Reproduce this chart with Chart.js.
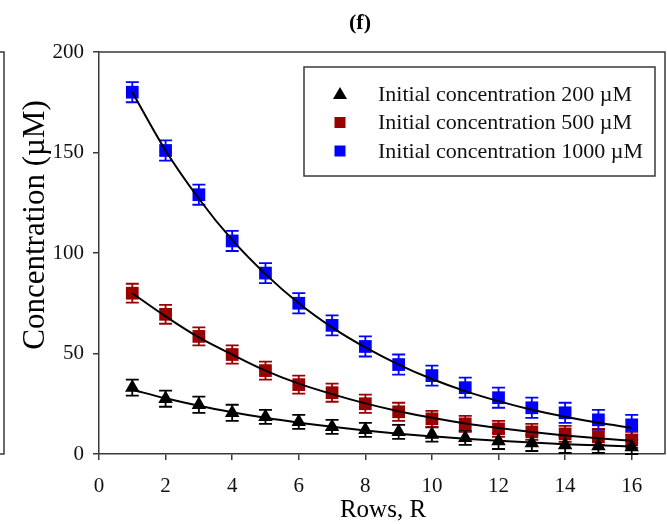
<!DOCTYPE html>
<html>
<head>
<meta charset="utf-8">
<script src="https://cdn.jsdelivr.net/npm/chart.js@4.4.1/dist/chart.umd.min.js"></script>
<style>
  html, body { margin: 0; padding: 0; background: #fff; }
  #wrap { width: 667px; height: 524px; }
</style>
</head>
<body>
<div id="wrap"><canvas id="chart" width="667" height="524"></canvas></div>
<script>
// rows along the column
const rows = [1, 2, 3, 4, 5, 6, 7, 8, 9, 10, 11, 12, 13, 14, 15, 16];

// measured concentrations (uM)
const conc200  = [33, 27.5, 24.5, 20.5, 18.5, 16, 13.5, 12, 11, 9.7, 8, 6.5, 5.5, 4.5, 4, 3.5];
const conc500  = [80, 69.5, 58.5, 49.5, 41.5, 34.5, 30.5, 25, 21, 17.5, 15, 12.5, 11, 10, 8.5, 7];
const conc1000 = [180, 151, 129, 106, 90, 75, 64, 53.5, 44.5, 39, 33, 28, 23, 20.5, 17, 14.5];

// error bar half-heights
const err200  = [4, 4, 4, 4, 3.5, 3.5, 3.5, 3.5, 3.5, 3.5, 3.5, 4, 4, 4, 3.5, 3.5];
const err500  = [4.7, 4.7, 4.5, 4.5, 4.5, 4.5, 4.5, 4.5, 4.5, 4, 4, 4, 4, 4, 4, 4];
const err1000 = [5, 5, 5, 5, 5, 5, 5, 5, 5, 5, 5, 5, 5, 5, 5, 5];

// fitted curves
const fit200  = [32, 27.7, 24, 20.8, 18, 15.6, 13.5, 11.7, 10.1, 8.8, 7.6, 6.6, 5.7, 4.9, 4.3, 3.7];
const fit500  = [80, 68.5, 58, 49.5, 41.5, 35, 29.8, 25.2, 21.3, 18, 15.2, 12.9, 10.9, 9.2, 7.8, 6.6];
const fit1000 = [180, 151, 127, 106.5, 89.5, 75, 63, 53, 44.5, 37.3, 31.3, 26.3, 22, 18.5, 15.5, 13];

const xTicks = [0, 2, 4, 6, 8, 10, 12, 14, 16];
const yTicks = [0, 50, 100, 150, 200];

const legendLabels = [
  'Initial concentration 200 \u00b5M',
  'Initial concentration 500 \u00b5M',
  'Initial concentration 1000 \u00b5M'
];

const axisColor = '#3a3a3a';
const serif = '"Liberation Serif", "Times New Roman", serif';

const pts = ys => rows.map((r, i) => ({ x: r, y: ys[i] }));

const series = [
  { label: legendLabels[0], data: conc200,  err: err200,  color: '#000000', style: 'triangle', radius: 8.4 },
  { label: legendLabels[1], data: conc500,  err: err500,  color: '#990000', style: 'rect', radius: 9 },
  { label: legendLabels[2], data: conc1000, err: err1000, color: '#0000ff', style: 'rect', radius: 9 }
];

const fitSet = (ys) => ({
  type: 'line',
  data: pts(ys),
  borderColor: '#000',
  borderWidth: 2,
  pointRadius: 0,
  fill: false,
  cubicInterpolationMode: 'monotone',
  order: 0
});

const datasets = [
  fitSet(fit200), fitSet(fit500), fitSet(fit1000),
  ...series.map(s => ({
    type: 'scatter',
    label: s.label,
    data: pts(s.data),
    backgroundColor: s.color,
    borderColor: s.color,
    borderWidth: 0,
    pointStyle: s.style,
    pointRadius: s.radius,
    pointHoverRadius: s.radius,
    order: 1
  }))
];

const errorBars = {
  id: 'errorBars',
  beforeDatasetsDraw(chart) {
    const { ctx, scales: { x, y } } = chart;
    ctx.save();
    ctx.lineWidth = 1.8;
    series.forEach(s => {
      ctx.strokeStyle = s.color;
      rows.forEach((r, i) => {
        const px = x.getPixelForValue(r);
        const top = y.getPixelForValue(s.data[i] + s.err[i]);
        const bot = y.getPixelForValue(s.data[i] - s.err[i]);
        ctx.beginPath();
        ctx.moveTo(px, top); ctx.lineTo(px, bot);
        ctx.moveTo(px - 6.5, top); ctx.lineTo(px + 6.5, top);
        ctx.moveTo(px - 6.5, bot); ctx.lineTo(px + 6.5, bot);
        ctx.stroke();
      });
    });
    ctx.restore();
  }
};

const decorations = {
  id: 'decorations',
  afterDraw(chart) {
    const { ctx, chartArea: a } = chart;
    ctx.save();
    // frame around the plot
    ctx.strokeStyle = axisColor;
    ctx.lineWidth = 1.5;
    ctx.beginPath();
    ctx.moveTo(a.left, a.top); ctx.lineTo(a.right, a.top); ctx.lineTo(a.right, a.bottom);
    ctx.stroke();
    // edge of the neighbouring panel
    ctx.beginPath();
    ctx.moveTo(0, a.top); ctx.lineTo(4, a.top); ctx.lineTo(4, a.bottom); ctx.lineTo(0, a.bottom);
    ctx.stroke();

    // panel title
    ctx.fillStyle = '#000';
    ctx.font = 'bold 22px ' + serif;
    ctx.textAlign = 'center';
    ctx.textBaseline = 'middle';
    ctx.fillText('(f)', 360, 23);

    // axis titles
    ctx.font = '25px ' + serif;
    ctx.fillText('Rows, R', 383, 510);
    ctx.save();
    ctx.translate(36, 225);
    ctx.rotate(-Math.PI / 2);
    ctx.font = '31px ' + serif;
    ctx.fillText('Concentration (\u00b5M)', 0, 0);
    ctx.restore();

    // legend
    const bx = 304, by = 67, bw = 351, bh = 109;
    ctx.strokeStyle = axisColor;
    ctx.lineWidth = 1.5;
    ctx.strokeRect(bx, by, bw, bh);
    ctx.font = '22px ' + serif;
    ctx.textAlign = 'left';
    series.forEach((s, i) => {
      const cy = 94 + i * 28.5;
      ctx.fillStyle = s.color;
      if (s.style === 'triangle') {
        ctx.beginPath();
        ctx.moveTo(340, cy - 7); ctx.lineTo(347, cy + 5); ctx.lineTo(333, cy + 5);
        ctx.closePath(); ctx.fill();
      } else {
        ctx.fillRect(334.5, cy - 5.5, 11, 11);
      }
      ctx.fillStyle = '#111';
      ctx.fillText(s.label, 378, cy + 1);
    });
    ctx.restore();
  }
};

new Chart(document.getElementById('chart'), {
  type: 'scatter',
  data: { datasets },
  options: {
    responsive: false,
    animation: false,
    layout: { autoPadding: false, padding: { left: 0, right: 2, top: 52, bottom: 0 } },
    plugins: { legend: { display: false }, tooltip: { enabled: false }, title: { display: false } },
    scales: {
      x: {
        type: 'linear', min: 0, max: 17,
        afterFit: s => { s.height = 70; s.paddingLeft = 0; s.paddingRight = 0; },
        afterBuildTicks: s => { s.ticks = xTicks.map(v => ({ value: v })); },
        grid: { drawOnChartArea: false, drawTicks: true, tickLength: 6, color: axisColor, lineWidth: 1.5 },
        border: { color: axisColor, width: 1.5 },
        ticks: { color: '#111', padding: 14, font: { family: serif, size: 21 } }
      },
      y: {
        type: 'linear', min: 0, max: 200,
        afterFit: s => { s.width = 99; },
        afterBuildTicks: s => { s.ticks = yTicks.map(v => ({ value: v })); },
        grid: { drawOnChartArea: false, drawTicks: true, tickLength: 6, color: axisColor, lineWidth: 1.5 },
        border: { color: axisColor, width: 1.5 },
        ticks: { color: '#111', padding: 9, font: { family: serif, size: 21 } }
      }
    }
  },
  plugins: [errorBars, decorations]
});
</script>
</body>
</html>
